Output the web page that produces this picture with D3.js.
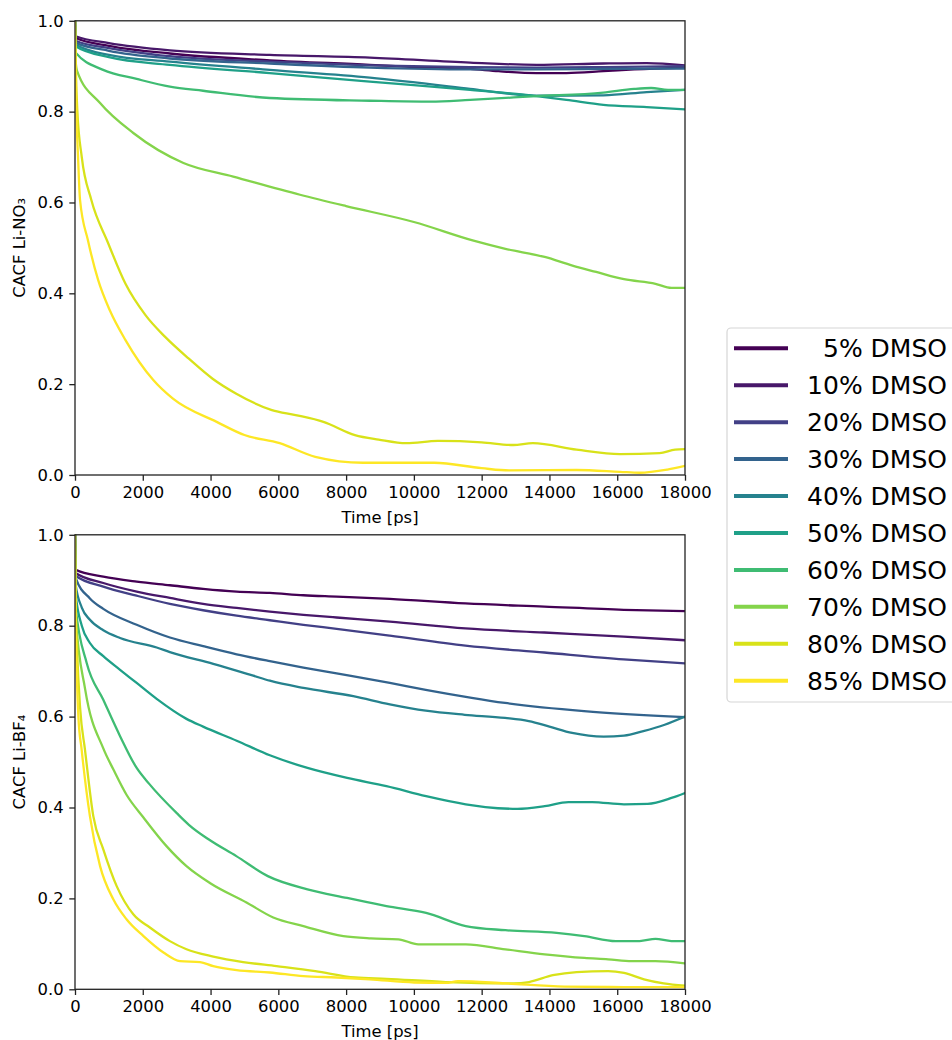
<!DOCTYPE html>
<html>
<head>
<meta charset="utf-8">
<script src="https://cdn.jsdelivr.net/npm/d3@7"></script>
<style>
  html, body { margin: 0; padding: 0; background: #fff; }
  svg { display: block; font-family: "DejaVu Sans", sans-serif; }
</style>
</head>
<body>
<svg id="chart" width="952" height="1040"></svg>
<script>
// DMSO fractions (percent) and legend labels
const dmso = [5, 10, 20, 30, 40, 50, 60, 70, 80, 85];
const labels = ["5% DMSO", "10% DMSO", "20% DMSO", "30% DMSO", "40% DMSO",
                "50% DMSO", "60% DMSO", "70% DMSO", "80% DMSO", "85% DMSO"];

// Tick values
const xTicks = [0, 2000, 4000, 6000, 8000, 10000, 12000, 14000, 16000, 18000];
const yTicks = [0.0, 0.2, 0.4, 0.6, 0.8, 1.0];

// CACF Li-NO3: [time ps, CACF]
const no3_5  = [[0,1],[20,0.962],[1000,0.945],[2800,0.928],[5750,0.913],[8700,0.903],[10000,0.898],[11660,0.894],[12500,0.889],[13620,0.885],[14500,0.885],[15590,0.889],[16500,0.893],[18000,0.897]];
const no3_10 = [[0,1],[20,0.966],[1000,0.951],[2800,0.935],[5750,0.925],[8700,0.919],[11660,0.908],[13620,0.903],[15590,0.906],[16870,0.907],[18000,0.902]];
const no3_20 = [[0,1],[20,0.956],[1000,0.940],[2800,0.922],[5750,0.910],[8700,0.902],[11660,0.898],[13620,0.897],[15590,0.898],[18000,0.900]];
const no3_30 = [[0,1],[20,0.952],[1000,0.934],[2800,0.917],[5750,0.906],[8700,0.897],[11660,0.893],[13620,0.893],[15590,0.894],[18000,0.895]];
const no3_40 = [[0,1],[20,0.948],[1000,0.925],[2800,0.910],[5750,0.892],[8700,0.875],[11660,0.850],[13000,0.838],[13620,0.835],[15590,0.836],[16870,0.843],[18000,0.848]];
const no3_50 = [[0,1],[20,0.944],[1000,0.920],[2800,0.903],[5750,0.885],[8700,0.866],[11660,0.848],[13620,0.834],[14500,0.826],[15590,0.815],[16870,0.810],[18000,0.805]];
const no3_60 = [[0,1],[20,0.930],[830,0.892],[1820,0.872],[2800,0.855],[3780,0.846],[5750,0.830],[8700,0.824],[10500,0.822],[11660,0.826],[13620,0.834],[15590,0.842],[16500,0.850],[17000,0.852],[17500,0.848],[18000,0.848]];
const no3_70 = [[0,1],[20,0.910],[60,0.890],[740,0.819],[1720,0.753],[3200,0.687],[4670,0.657],[6640,0.617],[8000,0.592],[10000,0.557],[11760,0.516],[12700,0.498],[13860,0.480],[14680,0.461],[15380,0.447],[16200,0.431],[17130,0.421],[17600,0.412],[18000,0.412]];
const no3_80 = [[0,1],[30,0.880],[70,0.800],[200,0.700],[480,0.606],[970,0.512],[1490,0.421],[2080,0.352],[2660,0.304],[3360,0.256],[4060,0.212],[4760,0.179],[5810,0.143],[6510,0.132],[7330,0.117],[8260,0.088],[8960,0.078],[9780,0.070],[10710,0.075],[12000,0.072],[12930,0.066],[13510,0.070],[14800,0.056],[16080,0.046],[17250,0.048],[17710,0.056],[18000,0.057]];
const no3_85 = [[0,1],[20,0.880],[40,0.800],[90,0.700],[148,0.606],[385,0.516],[680,0.430],[1030,0.362],[1490,0.297],[2310,0.209],[2890,0.168],[4180,0.117],[5000,0.088],[6040,0.070],[7090,0.040],[8500,0.027],[10600,0.027],[12000,0.015],[12810,0.010],[14800,0.011],[16080,0.007],[16660,0.005],[17480,0.012],[18000,0.020]];

// CACF Li-BF4: [time ps, CACF]
const bf4_5  = [[0,1],[20,0.923],[835,0.908],[1820,0.897],[2800,0.889],[3780,0.881],[4770,0.875],[5750,0.872],[6740,0.867],[7720,0.864],[9290,0.859],[11520,0.849],[13850,0.842],[16190,0.835],[18000,0.832]];
const bf4_10 = [[0,1],[20,0.916],[835,0.894],[1820,0.875],[2800,0.861],[3780,0.848],[4770,0.839],[5750,0.831],[6740,0.824],[7720,0.818],[9290,0.809],[11520,0.794],[13850,0.785],[16190,0.776],[18000,0.768]];
const bf4_20 = [[0,1],[20,0.910],[835,0.886],[1820,0.866],[2800,0.848],[3780,0.834],[4770,0.822],[5750,0.812],[6740,0.802],[7720,0.793],[9290,0.778],[11520,0.756],[13850,0.741],[16190,0.726],[18000,0.717]];
const bf4_30 = [[0,1],[20,0.905],[440,0.860],[835,0.837],[1820,0.802],[2800,0.774],[3780,0.755],[4770,0.737],[5750,0.722],[6740,0.708],[7720,0.695],[9290,0.674],[10350,0.659],[12690,0.630],[15020,0.612],[18000,0.599]];
const bf4_40 = [[0,1],[20,0.890],[200,0.840],[440,0.813],[835,0.790],[1330,0.773],[2410,0.752],[2800,0.742],[4080,0.716],[5260,0.690],[5750,0.679],[6740,0.663],[8210,0.645],[9290,0.627],[10350,0.613],[11500,0.604],[12690,0.597],[13390,0.590],[14000,0.578],[14670,0.564],[15600,0.556],[16200,0.558],[16770,0.568],[17400,0.582],[18000,0.600]];
const bf4_50 = [[0,1],[20,0.870],[200,0.800],[440,0.762],[835,0.733],[1330,0.703],[1820,0.674],[2410,0.639],[3290,0.595],[3780,0.578],[4770,0.547],[5750,0.515],[6860,0.487],[8030,0.465],[9190,0.447],[10360,0.425],[11530,0.407],[12110,0.401],[13050,0.397],[13860,0.403],[14560,0.412],[15260,0.412],[16200,0.407],[16900,0.408],[17600,0.421],[18000,0.432]];
const bf4_60 = [[0,1],[20,0.840],[345,0.718],[835,0.637],[1330,0.557],[1820,0.487],[2190,0.452],[3010,0.387],[3360,0.362],[3940,0.330],[4760,0.293],[5690,0.249],[6860,0.220],[8030,0.201],[9190,0.183],[10360,0.168],[11530,0.139],[12700,0.130],[14210,0.124],[15030,0.117],[15960,0.106],[16660,0.106],[17130,0.111],[17600,0.106],[18000,0.106]];
const bf4_70 = [[0,1],[20,0.820],[300,0.660],[835,0.530],[1130,0.484],[1520,0.428],[2020,0.378],[2700,0.315],[3290,0.271],[3980,0.234],[5060,0.191],[5850,0.158],[6740,0.139],[7920,0.117],[8730,0.112],[9540,0.110],[10130,0.099],[11530,0.099],[12700,0.088],[13860,0.077],[15030,0.069],[15730,0.066],[16430,0.062],[17130,0.062],[18000,0.057]];
const bf4_80 = [[0,1],[20,0.850],[60,0.750],[150,0.620],[295,0.527],[540,0.381],[835,0.308],[1230,0.227],[1720,0.165],[2210,0.136],[2800,0.106],[3290,0.088],[4080,0.072],[4960,0.060],[5950,0.051],[7090,0.040],[8260,0.026],[9190,0.023],[10940,0.016],[12930,0.013],[13400,0.016],[14100,0.031],[14800,0.038],[15730,0.040],[16200,0.036],[16790,0.022],[17370,0.013],[18000,0.008]];
const bf4_85 = [[0,1],[15,0.820],[50,0.700],[100,0.600],[197,0.527],[440,0.381],[740,0.271],[1130,0.198],[1520,0.154],[2020,0.117],[2610,0.081],[3100,0.062],[3690,0.060],[4080,0.051],[4770,0.042],[5750,0.037],[6740,0.029],[7720,0.026],[8700,0.022],[10010,0.015],[10940,0.014],[11300,0.018],[12700,0.013],[14450,0.006],[16200,0.005],[18000,0.005]];

const no3Series = [no3_5, no3_10, no3_20, no3_30, no3_40, no3_50, no3_60, no3_70, no3_80, no3_85];
const bf4Series = [bf4_5, bf4_10, bf4_20, bf4_30, bf4_40, bf4_50, bf4_60, bf4_70, bf4_80, bf4_85];

// Colour per DMSO fraction from the viridis map
const color = d3.scaleSequential(d3.interpolateViridis).domain([5, 85]);

const svg = d3.select("#chart");
const left = 75, right = 685;
const fontSize = 16.4;
const tickLen = 5.7, tickPad = 5.7;

const x = d3.scaleLinear().domain([0, 18000]).range([left, right]);

function panel(series, top, bottom, ylabel, id) {
  const y = d3.scaleLinear().domain([0, 1]).range([bottom, top]);
  const g = svg.append("g");

  g.append("clipPath").attr("id", id)
    .append("rect").attr("x", left).attr("y", top).attr("width", right - left).attr("height", bottom - top);

  const line = d3.line()
    .x(d => x(d[0]))
    .y(d => y(d[1]))
    .curve(d3.curveMonotoneX);

  const lines = g.append("g").attr("clip-path", `url(#${id})`);
  series.forEach((s, i) => {
    lines.append("path")
      .attr("d", line(s))
      .attr("fill", "none")
      .attr("stroke", color(dmso[i]))
      .attr("stroke-width", 2.3)
      .attr("stroke-linejoin", "round")
      .attr("stroke-linecap", "square");
  });

  // frame
  g.append("rect")
    .attr("x", left).attr("y", top)
    .attr("width", right - left).attr("height", bottom - top)
    .attr("fill", "none").attr("stroke", "#222").attr("stroke-width", 1.3);

  // x axis
  const xAxis = d3.axisBottom(x).tickValues(xTicks).tickFormat(d3.format("d"))
    .tickSize(tickLen).tickPadding(tickPad);
  const gx = g.append("g").attr("transform", `translate(0,${bottom})`).call(xAxis);
  gx.select(".domain").remove();
  gx.selectAll(".tick line").attr("stroke", "#222").attr("stroke-width", 1.3);
  gx.selectAll(".tick text").attr("font-size", fontSize).attr("fill", "#000")
    .attr("font-family", "DejaVu Sans");

  // y axis
  const yAxis = d3.axisLeft(y).tickValues(yTicks).tickFormat(d3.format(".1f"))
    .tickSize(tickLen).tickPadding(tickPad);
  const gy = g.append("g").attr("transform", `translate(${left},0)`).call(yAxis);
  gy.select(".domain").remove();
  gy.selectAll(".tick line").attr("stroke", "#222").attr("stroke-width", 1.3);
  gy.selectAll(".tick text").attr("font-size", fontSize).attr("fill", "#000")
    .attr("font-family", "DejaVu Sans");

  // axis titles
  g.append("text")
    .attr("x", (left + right) / 2).attr("y", bottom + 48)
    .attr("text-anchor", "middle").attr("font-size", fontSize)
    .text("Time [ps]");
  g.append("text")
    .attr("transform", `translate(25,${(top + bottom) / 2}) rotate(-90)`)
    .attr("text-anchor", "middle").attr("font-size", fontSize)
    .text(ylabel);
}

panel(no3Series, 20.8, 475, "CACF Li-NO\u2083", "clipTop");
panel(bf4Series, 534.8, 989.3, "CACF Li-BF\u2084", "clipBottom");

// legend
const legend = svg.append("g");
legend.append("rect")
  .attr("x", 727).attr("y", 328).attr("width", 260).attr("height", 374)
  .attr("rx", 4).attr("fill", "#fff").attr("fill-opacity", 0.8)
  .attr("stroke", "#d6d6d6").attr("stroke-width", 1.2);
const rowY = d3.scaleLinear().domain([0, labels.length - 1]).range([348.3, 680.7]);
labels.forEach((lab, i) => {
  legend.append("line")
    .attr("x1", 734).attr("x2", 788)
    .attr("y1", rowY(i)).attr("y2", rowY(i))
    .attr("stroke", color(dmso[i])).attr("stroke-width", 4);
  legend.append("text")
    .attr("x", 947).attr("y", rowY(i) + 9)
    .attr("text-anchor", "end").attr("font-size", 25)
    .text(lab);
});
</script>
</body>
</html>
